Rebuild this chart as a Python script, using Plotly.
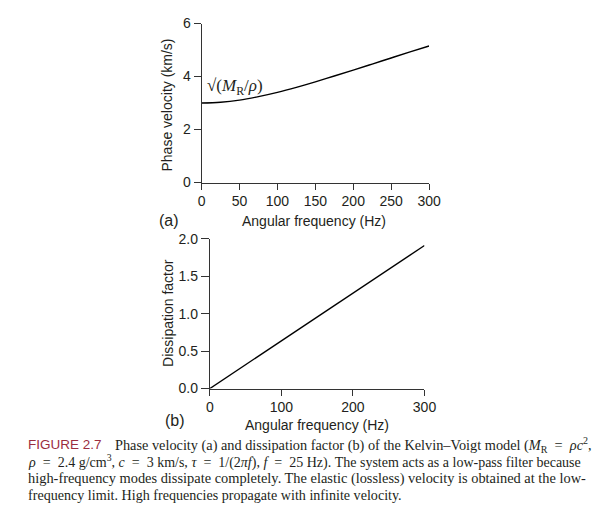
import plotly.graph_objects as go

# ---- data ----
freq = [0, 25, 50, 75, 100, 125, 150, 175, 200, 225, 250, 275, 300]
phase_velocity = [3.00, 3.03, 3.11, 3.24, 3.40, 3.59, 3.80, 4.02, 4.24, 4.47, 4.70, 4.93, 5.15]
diss_freq = [0, 100, 200, 300]
dissipation = [0.0, 0.64, 1.27, 1.91]

top_x_ticks = [0, 50, 100, 150, 200, 250, 300]
top_y_ticks = [0, 2, 4, 6]
bot_x_ticks = [0, 100, 200, 300]
bot_y_ticks = [0.0, 0.5, 1.0, 1.5, 2.0]

W, H = 600, 525
INK = "#231f20"
SANS = "Liberation Sans, Arial, sans-serif"
SERIF = "Liberation Serif, Times New Roman, serif"


def px(x):
    return x / W


def py(y):
    return 1 - y / H


fig = go.Figure()
fig.add_trace(go.Scatter(x=freq, y=phase_velocity, mode="lines", line=dict(color="#000", width=1.4, shape="spline"),
                         xaxis="x", yaxis="y", hoverinfo="skip", showlegend=False))
fig.add_trace(go.Scatter(x=diss_freq, y=dissipation, mode="lines", line=dict(color="#000", width=1.4),
                         xaxis="x2", yaxis="y2", hoverinfo="skip", showlegend=False))


def axis_common(tl):
    return dict(showline=True, linecolor="#333", linewidth=1, ticks="outside", ticklen=tl, tickwidth=1,
                tickcolor="#333", showgrid=False, zeroline=False,
                tickfont=dict(family=SANS, size=14, color=INK), fixedrange=True)


fig.update_layout(
    width=W, height=H, margin=dict(l=0, r=0, t=0, b=0),
    paper_bgcolor="white", plot_bgcolor="white",
    xaxis=dict(domain=[px(203), px(436.7)], range=[0, 300], tickvals=top_x_ticks, anchor="y", **axis_common(6)),
    yaxis=dict(domain=[py(180), py(16)], range=[0, 6], tickvals=top_y_ticks, anchor="x", **axis_common(7)),
    xaxis2=dict(domain=[px(211.5), px(432)], range=[0, 300], tickvals=bot_x_ticks, anchor="y2", **axis_common(6)),
    yaxis2=dict(domain=[py(392.5), py(238)], range=[0, 2], tickvals=bot_y_ticks, tickformat=".1f",
                anchor="x2", **axis_common(8)),
)

ann = []


def add(text, x, y, size, family=SANS, angle=0, xanchor="center", color=INK, xref="paper", yref="paper"):
    ann.append(dict(text=text, x=x, y=y, xref=xref, yref=yref, showarrow=False, textangle=angle,
                    font=dict(family=family, size=size, color=color), xanchor=xanchor, yanchor="middle",
                    align="left"))


# axis titles and panel labels
add("Angular frequency (Hz)", px(318), py(220), 14)
add("Angular frequency (Hz)", px(322), py(430), 14)
add("Phase velocity (km/s)", px(167), py(100), 14, angle=-90)
add("Dissipation factor", px(169), py(314), 14, angle=-90)
add("(a)", px(170), py(219), 16)
add("(b)", px(176), py(425), 16)
# curve label
add("√(<i>M</i><sub>R</sub>/<i>ρ</i>)", 5, 3.61, 17, family=SERIF, xanchor="left", xref="x", yref="y")

# caption
EN = "\u2002"
cap_lines = [
    ("Phase velocity (a) and dissipation factor (b) of the Kelvin–Voigt model (<i>M</i><sub>R</sub>"
     + EN + "=" + EN + "<i>ρc</i><sup>2</sup>,", 112, 450.5, 14.3),
    ("<i>ρ</i>" + EN + "=" + EN + "2.4 g/cm<sup>3</sup>, <i>c</i>" + EN + "=" + EN + "3 km/s, <i>τ</i>" + EN + "="
     + EN + "1/(2<i>πf</i>), <i>f</i>" + EN + "=" + EN + "25 Hz). The system acts as a low-pass filter because",
     23, 467.5, 14.0),
    ("high-frequency modes dissipate completely. The elastic (lossless) velocity is obtained at the low-",
     23, 485, 14.4),
    ("frequency limit. High frequencies propagate with infinite velocity.", 23, 502, 14.1),
]
for text, x0, yc, fs in cap_lines:
    add(text, px(x0), py(yc), fs, family=SERIF, xanchor="left")
add("FIGURE 2.7", px(23), py(450), 13.5, xanchor="left", color="#9b2d3f")

fig.update_layout(annotations=ann)
fig.write_html("out.html", config={"displayModeBar": False})
